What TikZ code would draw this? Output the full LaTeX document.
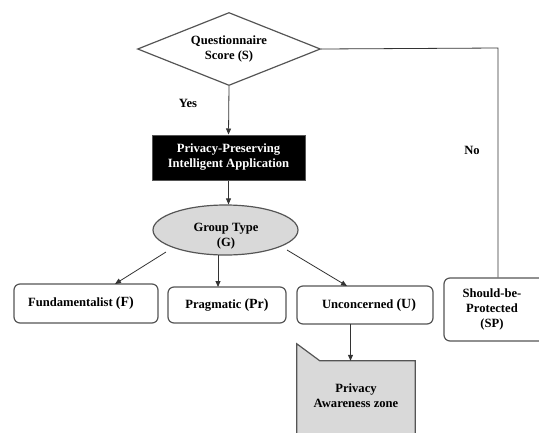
\documentclass[tikz,border=0pt]{standalone}
\usepackage{fontspec}
\setmainfont{Liberation Serif}
\usetikzlibrary{shapes.geometric,arrows.meta}
\definecolor{edge}{HTML}{555555}
\definecolor{lgray}{HTML}{D9D9D9}
\newcommand{\bigpar}[1]{{\fontsize{14}{14}\selectfont #1}}
\tikzset{
  txt/.style={font=\bfseries\fontsize{12.6}{15}\selectfont, align=center, text=black},
  rbox/.style={txt, draw=edge, line width=1.2pt, rounded corners=6pt, fill=white, inner sep=0pt},
  conn/.style={draw=black!80, line width=0.8pt},
  arr/.style={conn, -{Triangle[length=6pt,width=5pt]}},
}
\begin{document}
\begin{tikzpicture}[x=1pt,y=-1pt]
\useasboundingbox (0,0) rectangle (539,432);
\clip (0,0) rectangle (539,432);
% diamond
\node[txt, shape=diamond, draw=edge, line width=1.2pt, minimum width=183pt, minimum height=73pt, inner sep=0pt, aspect=2.5] (qs) at (229,49) {Questionnaire\\Score (S)};
% black box
\node[txt, text=white, fill=black, draw=edge, line width=1pt, minimum width=153pt, minimum height=45pt, inner sep=0pt] (ppia) at (228.5,157.5) {Privacy-Preserving\\Intelligent Application};
% ellipse
\node[shape=ellipse, fill=lgray, draw=edge, line width=1.2pt, minimum width=145pt, minimum height=50pt, inner sep=0pt] (gt) at (225.5,230) {};
\node[txt] (gttext) at (226,236) {Group Type\\(G)};
% group boxes
\node[rbox, minimum width=144pt, minimum height=39pt] (fu) at (86,303.5) {\hspace*{-10pt}Fundamentalist \bigpar{(F)}};
\node[rbox, minimum width=118pt, minimum height=36pt] (pr) at (227,305) {Pragmatic \bigpar{(Pr)}};
\node[rbox, minimum width=136pt, minimum height=38pt] (un) at (365,305) {\hspace*{8pt}Unconcerned \bigpar{(U)}};
\node[rbox, minimum width=110pt, minimum height=63pt, text width=100pt] (sp) at (499,309.5) {\hspace*{-14pt}Should-be-\\\hspace*{-14pt}Protected\\\hspace*{-14pt}(SP)};
% privacy awareness zone
\node[txt, minimum width=118pt, minimum height=80pt, inner sep=0pt] (paz) at (356,401) {};
\draw[draw=edge, fill=lgray, line width=1.2pt] ([yshift=17pt]paz.north west) -- ([xshift=23pt]paz.north west) -- (paz.north east) -- (paz.south east) -- (paz.south west) -- cycle;
\node[txt] (paztext) at (356,396) {Privacy\\Awareness zone};
% connectors
\draw[arr] (qs.south) -- (ppia.north);
\draw[arr] (ppia.south) -- (ppia.south |- gt.north);
\coordinate (fuin) at (115,284);
\coordinate (prin) at (218,287);
\coordinate (unin) at (347,286);
\coordinate (gl) at (166,252);
\coordinate (gm) at (218,255);
\coordinate (gr) at (287,250);
\draw[arr] (gl) -- (fuin);
\draw[arr] (gm) -- (prin);
\draw[arr] (gr) -- (unin);
\coordinate (unout) at (350.5,324);
\draw[arr] (unout) -- (paz.north -| unout);
\coordinate (turn) at (498,48);
\draw[conn] (qs.east) -- (turn) -- (sp.north -| turn);
\node[txt] (yes) at (188,103) {Yes};
\node[txt] (no) at (472,150) {No};
\end{tikzpicture}
\end{document}
